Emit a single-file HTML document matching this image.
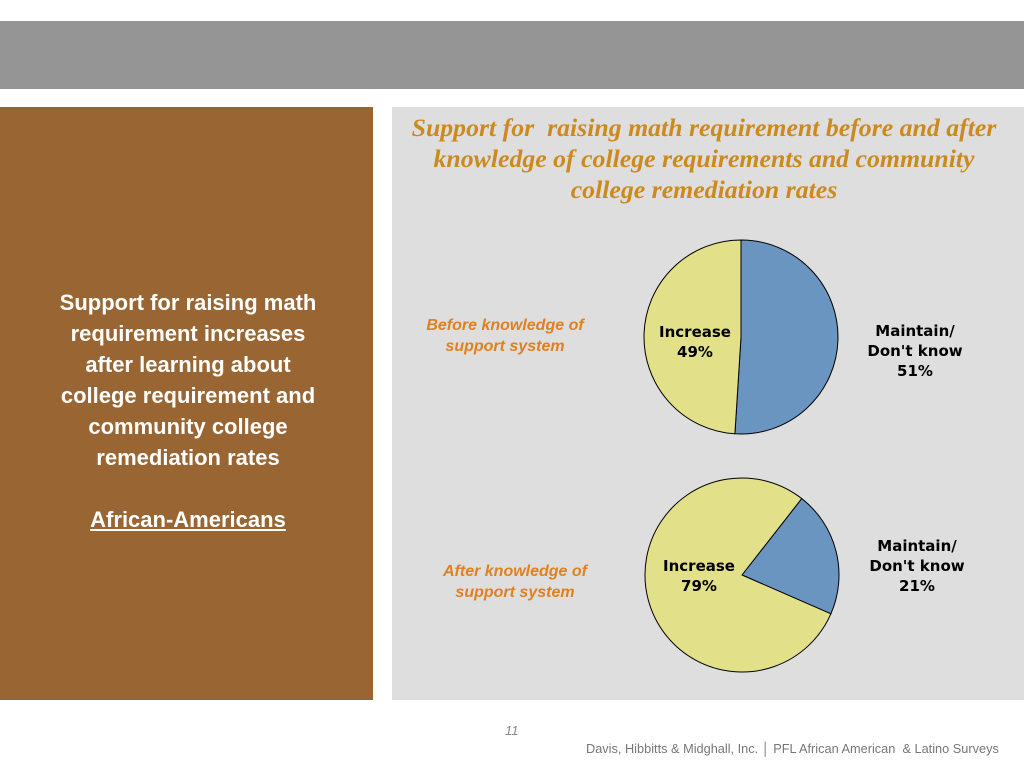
<!DOCTYPE html>
<html><head><meta charset="utf-8"><style>
body{margin:0;width:1024px;height:768px;background:#fff;position:relative;overflow:hidden;font-family:"Liberation Sans",sans-serif}
.abs{position:absolute}
</style></head><body>
<div class="abs" style="left:0;top:21px;width:1024px;height:68px;background:#959595"></div>
<div class="abs" style="left:0;top:107px;width:373px;height:593px;background:#996633"></div>
<div class="abs" style="left:10px;top:287px;width:356px;text-align:center;color:#fff;font-weight:bold;font-size:22px;line-height:31px">Support for raising math<br>requirement increases<br>after learning about<br>college requirement and<br>community college<br>remediation rates<br><br><span style="text-decoration:underline">African-Americans</span></div>
<div class="abs" style="left:392px;top:107px;width:632px;height:593px;background:#dedede"></div>
<div class="abs" style="left:384px;top:112px;width:640px;text-align:center;color:#cc8a1e;font-family:'Liberation Serif',serif;font-style:italic;font-weight:bold;font-size:25.8px;line-height:31px">Support for&nbsp; raising math requirement before and after<br>knowledge of college requirements and community<br>college remediation rates</div>
<div class="abs" style="left:410px;top:315px;width:190px;text-align:center;color:#e0801e;font-style:italic;font-weight:bold;font-size:16px;line-height:21px">Before knowledge of support system</div>
<div class="abs" style="left:420px;top:561px;width:190px;text-align:center;color:#e0801e;font-style:italic;font-weight:bold;font-size:16px;line-height:21px">After knowledge of support system</div>
<svg class="abs" id="chart" style="left:0;top:0" width="1024" height="768"></svg>
<div class="abs" style="left:505px;top:723px;color:#888;font-style:italic;font-size:13px">11</div>
<div class="abs" style="left:586px;top:741px;color:#777;font-size:12.75px;white-space:nowrap">Davis, Hibbitts &amp; Midghall, Inc. │ PFL African American&nbsp; &amp; Latino Surveys</div>
<script>
const pieNames=["before","after"];
const maintainValues=[51,21];
const increaseValues=[49,79];
const startAngles=[0,38];
const svg=document.getElementById('chart');
const NS='http://www.w3.org/2000/svg';
const centers=[[741,337],[742,575]];
const R=97;
function pt(c,a){const r=(a-90)*Math.PI/180;return [c[0]+R*Math.cos(r),c[1]+R*Math.sin(r)];}
function slice(c,a0,a1,fill,name){
  const p0=pt(c,a0),p1=pt(c,a1),large=(a1-a0)>180?1:0;
  const p=document.createElementNS(NS,'path');
  p.setAttribute('d',`M${c[0]},${c[1]} L${p0[0]},${p0[1]} A${R},${R} 0 ${large} 1 ${p1[0]},${p1[1]} Z`);
  p.setAttribute('fill',fill);p.setAttribute('stroke','#000');p.setAttribute('stroke-width','1');
  
  
  svg.appendChild(p);
}
function txt(x,y,lines,name){
  const t=document.createElementNS(NS,'text');
  t.setAttribute('x',x);t.setAttribute('y',y);t.setAttribute('text-anchor','middle');
  t.setAttribute('font-family','DejaVu Sans, sans-serif');t.setAttribute('font-weight','bold');t.setAttribute('font-size','15');
  lines.forEach((l,i)=>{const s=document.createElementNS(NS,'tspan');s.setAttribute('x',x);s.setAttribute('dy',i?20:0);s.textContent=l;t.appendChild(s);});
  
  
  svg.appendChild(t);
}
pieNames.forEach((n,i)=>{
  const c=centers[i],tot=maintainValues[i]+increaseValues[i];
  const s=startAngles[i],m=maintainValues[i]/tot*360;
  slice(c,s,s+m,'#6a95c0',n+'-maintain-slice');
  slice(c,s+m,s+360,'#e3e08a',n+'-increase-slice');
});
txt(695,337,["Increase",increaseValues[0]+"%"],'before-increase-label');
txt(915,336,["Maintain/","Don't know",maintainValues[0]+"%"],'before-maintain-label');
txt(699,571,["Increase",increaseValues[1]+"%"],'after-increase-label');
txt(917,551,["Maintain/","Don't know",maintainValues[1]+"%"],'after-maintain-label');
</script>
</body></html>
